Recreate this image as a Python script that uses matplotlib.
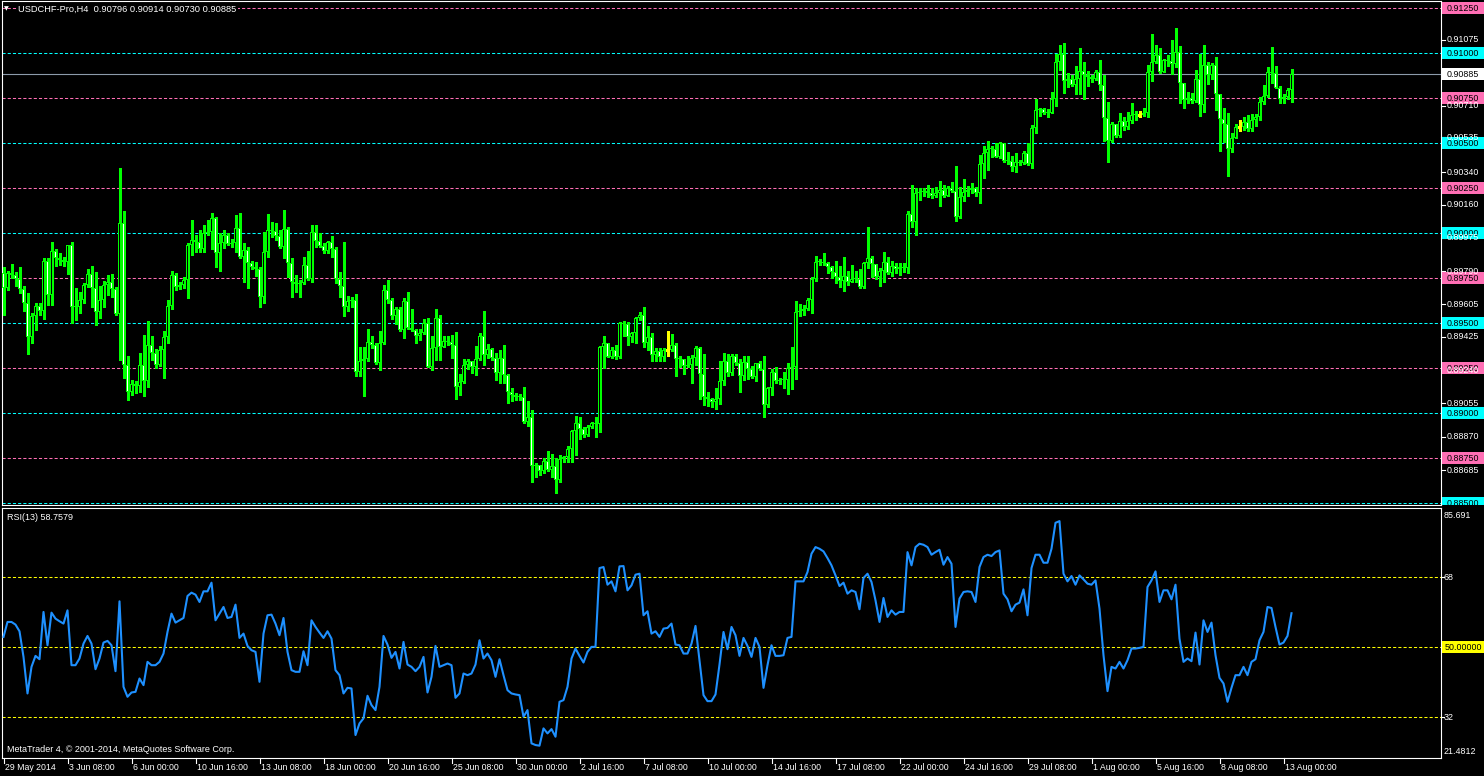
import numpy as np
import matplotlib
matplotlib.use("Agg")
import matplotlib.pyplot as plt
from matplotlib.transforms import blended_transform_factory, Bbox, TransformedBbox
from matplotlib.patches import Rectangle

# ---------------- data ----------------
header_text = "USDCHF-Pro,H4  0.90796 0.90914 0.90730 0.90885"
rsi_title = "RSI(13) 58.7579"
footer_text = "MetaTrader 4, \u00a9 2001-2014, MetaQuotes Software Corp."

first_open = 0.89778
closes = [
    0.89695, 0.89778, 0.89769, 0.89745, 0.89689, 0.89615, 0.89423, 0.89541, 0.89597, 0.89571,
    0.89847, 0.89658, 0.89902, 0.89861, 0.89852, 0.89843, 0.89934, 0.89590, 0.89593, 0.89630,
    0.89713, 0.89773, 0.89695, 0.89565, 0.89630, 0.89713, 0.89728, 0.89689, 0.89553, 0.90056,
    0.89270, 0.89116, 0.89162, 0.89153, 0.89270, 0.89177, 0.89380, 0.89334, 0.89270, 0.89353,
    0.89423, 0.89597, 0.89769, 0.89700, 0.89713, 0.89741, 0.89935, 0.89963, 0.89952, 0.89911,
    0.90000, 0.90006, 0.90083, 0.89893, 0.89945, 0.89991, 0.89941, 0.89945, 0.90028, 0.89871,
    0.89908, 0.89834, 0.89815, 0.89802, 0.89645, 0.89895, 0.90019, 0.90015, 0.89986, 0.89923,
    0.90022, 0.89834, 0.89732, 0.89717, 0.89723, 0.89824, 0.89745, 0.90006, 0.89959, 0.89932,
    0.89904, 0.89954, 0.89913, 0.89745, 0.89709, 0.89593, 0.89625, 0.89630, 0.89227, 0.89288,
    0.89301, 0.89399, 0.89377, 0.89279, 0.89390, 0.89686, 0.89627, 0.89538, 0.89578, 0.89464,
    0.89625, 0.89473, 0.89464, 0.89427, 0.89449, 0.89501, 0.89260, 0.89362, 0.89528, 0.89371,
    0.89403, 0.89399, 0.89380, 0.89145, 0.89173, 0.89269, 0.89291, 0.89256, 0.89302, 0.89430,
    0.89324, 0.89358, 0.89306, 0.89222, 0.89306, 0.89213, 0.89121, 0.89102, 0.89093, 0.89089,
    0.88954, 0.88978, 0.88708, 0.88714, 0.88680, 0.88736, 0.88686, 0.88708, 0.88630, 0.88745,
    0.88756, 0.88801, 0.88902, 0.88945, 0.88912, 0.88877, 0.88926, 0.88945, 0.88941, 0.89367,
    0.89389, 0.89315, 0.89352, 0.89311, 0.89504, 0.89496, 0.89426, 0.89445, 0.89528, 0.89546,
    0.89389, 0.89422, 0.89324, 0.89348, 0.89311, 0.89350, 0.89350, 0.89378, 0.89304, 0.89300,
    0.89263, 0.89271, 0.89306, 0.89364, 0.89217, 0.89090, 0.89079, 0.89062, 0.89079, 0.89177,
    0.89291, 0.89223, 0.89319, 0.89282, 0.89205, 0.89284, 0.89245, 0.89201, 0.89278, 0.89245,
    0.89047, 0.89140, 0.89232, 0.89177, 0.89186, 0.89184, 0.89251, 0.89256, 0.89565, 0.89569,
    0.89578, 0.89630, 0.89745, 0.89839, 0.89842, 0.89834, 0.89811, 0.89787, 0.89760, 0.89737,
    0.89763, 0.89732, 0.89748, 0.89745, 0.89704, 0.89834, 0.89861, 0.89828, 0.89756, 0.89793,
    0.89839, 0.89782, 0.89819, 0.89800, 0.89811, 0.89809, 0.90107, 0.90065, 0.90222, 0.90231,
    0.90233, 0.90226, 0.90207, 0.90226, 0.90240, 0.90207, 0.90250, 0.90237, 0.90093, 0.90204,
    0.90231, 0.90240, 0.90250, 0.90222, 0.90385, 0.90444, 0.90468, 0.90466, 0.90426, 0.90500,
    0.90403, 0.90401, 0.90366, 0.90396, 0.90392, 0.90444, 0.90385, 0.90583, 0.90685, 0.90688,
    0.90666, 0.90670, 0.90744, 0.90953, 0.90995, 0.90847, 0.90860, 0.90823, 0.90860, 0.90901,
    0.90879, 0.90870, 0.90855, 0.90897, 0.90823, 0.90638, 0.90514, 0.90610, 0.90542, 0.90623,
    0.90588, 0.90625, 0.90660, 0.90657, 0.90657, 0.90666, 0.90894, 0.90953, 0.90990, 0.90897,
    0.90962, 0.90958, 0.90938, 0.91008, 0.90833, 0.90740, 0.90753, 0.90736, 0.90855, 0.90712,
    0.90934, 0.90879, 0.90934, 0.90773, 0.90633, 0.90610, 0.90466, 0.90527, 0.90588, 0.90588,
    0.90620, 0.90577, 0.90629, 0.90644, 0.90731, 0.90762, 0.90894, 0.90888, 0.90810, 0.90746,
    0.90755, 0.90796, 0.90885,
]
highs = [
    0.89815, 0.89793, 0.89828, 0.89787, 0.89812, 0.89708, 0.89667, 0.89556, 0.89615, 0.89615,
    0.89861, 0.89861, 0.89952, 0.89913, 0.89889, 0.89867, 0.89937, 0.89952, 0.89695, 0.89676,
    0.89723, 0.89802, 0.89819, 0.89787, 0.89708, 0.89736, 0.89767, 0.89774, 0.89704, 0.90361,
    0.90124, 0.89319, 0.89186, 0.89177, 0.89334, 0.89436, 0.89512, 0.89430, 0.89356, 0.89374,
    0.89455, 0.89630, 0.89793, 0.89782, 0.89732, 0.89760, 0.89945, 0.90074, 0.89991, 0.90019,
    0.90046, 0.90074, 0.90111, 0.90093, 0.90000, 0.90019, 0.90000, 0.89967, 0.90102, 0.90111,
    0.89945, 0.89926, 0.89847, 0.89843, 0.89812, 0.90010, 0.90108, 0.90065, 0.90056, 0.90019,
    0.90130, 0.90037, 0.89861, 0.89769, 0.89741, 0.89867, 0.89904, 0.90046, 0.90046, 0.90000,
    0.89945, 0.89958, 0.89986, 0.89926, 0.89787, 0.89954, 0.89652, 0.89645, 0.89663, 0.89371,
    0.89371, 0.89469, 0.89427, 0.89390, 0.89455, 0.89713, 0.89741, 0.89639, 0.89588, 0.89588,
    0.89643, 0.89675, 0.89578, 0.89467, 0.89467, 0.89523, 0.89528, 0.89430, 0.89578, 0.89547,
    0.89427, 0.89430, 0.89435, 0.89454, 0.89219, 0.89302, 0.89302, 0.89278, 0.89374, 0.89448,
    0.89568, 0.89385, 0.89361, 0.89334, 0.89352, 0.89380, 0.89219, 0.89139, 0.89115, 0.89108,
    0.89148, 0.89071, 0.89019, 0.88723, 0.88695, 0.88751, 0.88788, 0.88775, 0.88751, 0.88769,
    0.88764, 0.88819, 0.88908, 0.88986, 0.88982, 0.88926, 0.88936, 0.88954, 0.88982, 0.89374,
    0.89430, 0.89393, 0.89371, 0.89380, 0.89509, 0.89515, 0.89509, 0.89454, 0.89533, 0.89561,
    0.89589, 0.89485, 0.89448, 0.89361, 0.89361, 0.89361, 0.89458, 0.89441, 0.89390, 0.89316,
    0.89301, 0.89319, 0.89325, 0.89375, 0.89371, 0.89330, 0.89116, 0.89084, 0.89140, 0.89292,
    0.89334, 0.89330, 0.89330, 0.89330, 0.89301, 0.89316, 0.89319, 0.89264, 0.89282, 0.89288,
    0.89319, 0.89149, 0.89245, 0.89256, 0.89195, 0.89232, 0.89282, 0.89371, 0.89626, 0.89608,
    0.89602, 0.89639, 0.89756, 0.89874, 0.89856, 0.89893, 0.89843, 0.89819, 0.89846, 0.89819,
    0.89870, 0.89793, 0.89824, 0.89793, 0.89801, 0.89843, 0.90037, 0.89874, 0.89806, 0.89806,
    0.89898, 0.89870, 0.89848, 0.89834, 0.89837, 0.89834, 0.90126, 0.90268, 0.90250, 0.90250,
    0.90250, 0.90268, 0.90250, 0.90259, 0.90290, 0.90268, 0.90263, 0.90287, 0.90374, 0.90255,
    0.90300, 0.90263, 0.90278, 0.90259, 0.90435, 0.90485, 0.90512, 0.90485, 0.90503, 0.90509,
    0.90503, 0.90453, 0.90429, 0.90444, 0.90407, 0.90459, 0.90500, 0.90601, 0.90744, 0.90699,
    0.90699, 0.90688, 0.90786, 0.90999, 0.91045, 0.91058, 0.90888, 0.90879, 0.90929, 0.91027,
    0.90953, 0.90903, 0.90879, 0.90910, 0.90962, 0.90879, 0.90731, 0.90620, 0.90607, 0.90666,
    0.90644, 0.90675, 0.90722, 0.90681, 0.90681, 0.90699, 0.90934, 0.91110, 0.91045, 0.91027,
    0.90971, 0.90990, 0.91073, 0.91138, 0.91040, 0.90836, 0.90786, 0.90781, 0.90910, 0.90999,
    0.91045, 0.90953, 0.90947, 0.90977, 0.90773, 0.90699, 0.90670, 0.90559, 0.90610, 0.90629,
    0.90648, 0.90657, 0.90662, 0.90662, 0.90755, 0.90823, 0.90925, 0.91036, 0.90929, 0.90818,
    0.90773, 0.90805, 0.90914,
]
lows = [
    0.89547, 0.89686, 0.89750, 0.89708, 0.89667, 0.89571, 0.89329, 0.89393, 0.89464, 0.89547,
    0.89523, 0.89602, 0.89602, 0.89819, 0.89824, 0.89819, 0.89774, 0.89501, 0.89516, 0.89560,
    0.89615, 0.89704, 0.89593, 0.89488, 0.89528, 0.89593, 0.89658, 0.89649, 0.89547, 0.89297,
    0.89195, 0.89075, 0.89103, 0.89112, 0.89116, 0.89094, 0.89149, 0.89297, 0.89250, 0.89262,
    0.89195, 0.89393, 0.89578, 0.89686, 0.89689, 0.89695, 0.89639, 0.89880, 0.89899, 0.89899,
    0.89899, 0.89991, 0.89913, 0.89812, 0.89793, 0.89917, 0.89935, 0.89926, 0.89899, 0.89861,
    0.89732, 0.89695, 0.89800, 0.89763, 0.89593, 0.89615, 0.89871, 0.89982, 0.89963, 0.89917,
    0.89861, 0.89760, 0.89649, 0.89676, 0.89645, 0.89719, 0.89741, 0.89732, 0.89926, 0.89926,
    0.89889, 0.89889, 0.89867, 0.89723, 0.89649, 0.89541, 0.89569, 0.89593, 0.89205, 0.89205,
    0.89098, 0.89288, 0.89362, 0.89275, 0.89238, 0.89386, 0.89615, 0.89523, 0.89497, 0.89455,
    0.89421, 0.89467, 0.89455, 0.89393, 0.89408, 0.89440, 0.89256, 0.89242, 0.89297, 0.89297,
    0.89367, 0.89380, 0.89306, 0.89078, 0.89102, 0.89167, 0.89245, 0.89226, 0.89213, 0.89297,
    0.89269, 0.89306, 0.89297, 0.89186, 0.89167, 0.89167, 0.89060, 0.89071, 0.89074, 0.89074,
    0.88949, 0.88930, 0.88616, 0.88645, 0.88658, 0.88667, 0.88677, 0.88645, 0.88560, 0.88621,
    0.88732, 0.88732, 0.88732, 0.88769, 0.88856, 0.88871, 0.88875, 0.88917, 0.88867, 0.88899,
    0.89250, 0.89311, 0.89306, 0.89304, 0.89306, 0.89430, 0.89380, 0.89398, 0.89393, 0.89519,
    0.89370, 0.89352, 0.89293, 0.89293, 0.89293, 0.89293, 0.89320, 0.89349, 0.89208, 0.89260,
    0.89219, 0.89260, 0.89171, 0.89269, 0.89079, 0.89047, 0.89038, 0.89034, 0.89023, 0.89053,
    0.89158, 0.89208, 0.89214, 0.89269, 0.89116, 0.89186, 0.89189, 0.89195, 0.89177, 0.89238,
    0.88979, 0.89034, 0.89103, 0.89171, 0.89164, 0.89140, 0.89108, 0.89134, 0.89190, 0.89541,
    0.89547, 0.89575, 0.89560, 0.89737, 0.89824, 0.89824, 0.89782, 0.89750, 0.89726, 0.89700,
    0.89682, 0.89713, 0.89732, 0.89732, 0.89695, 0.89695, 0.89806, 0.89756, 0.89745, 0.89708,
    0.89732, 0.89774, 0.89763, 0.89782, 0.89769, 0.89787, 0.89780, 0.90037, 0.89991, 0.90185,
    0.90207, 0.90200, 0.90194, 0.90204, 0.90152, 0.90204, 0.90207, 0.90231, 0.90070, 0.90083,
    0.90181, 0.90207, 0.90226, 0.90207, 0.90170, 0.90305, 0.90352, 0.90426, 0.90422, 0.90420,
    0.90398, 0.90385, 0.90348, 0.90342, 0.90379, 0.90385, 0.90379, 0.90361, 0.90555, 0.90651,
    0.90662, 0.90644, 0.90666, 0.90707, 0.90910, 0.90781, 0.90814, 0.90818, 0.90773, 0.90773,
    0.90749, 0.90818, 0.90842, 0.90850, 0.90799, 0.90514, 0.90398, 0.90509, 0.90537, 0.90537,
    0.90574, 0.90577, 0.90614, 0.90629, 0.90648, 0.90651, 0.90644, 0.90847, 0.90944, 0.90892,
    0.90897, 0.90929, 0.90884, 0.90925, 0.90722, 0.90699, 0.90722, 0.90722, 0.90731, 0.90651,
    0.90675, 0.90829, 0.90855, 0.90685, 0.90459, 0.90509, 0.90318, 0.90453, 0.90533, 0.90570,
    0.90574, 0.90570, 0.90570, 0.90596, 0.90629, 0.90718, 0.90755, 0.90833, 0.90805, 0.90722,
    0.90725, 0.90749, 0.90730,
]
rsi_values = [
    52.66, 56.51, 56.51, 55.83, 54.11, 47.51, 38.09, 44.94, 47.77, 46.91,
    59.09, 50.51, 58.91, 57.37, 56.69, 56.09, 59.51, 45.37, 45.37, 47.09,
    50.94, 52.91, 50.94, 44.34, 47.09, 51.20, 51.63, 50.51, 43.83, 61.83,
    39.80, 37.23, 38.34, 38.51, 41.94, 40.23, 46.23, 45.37, 45.37, 46.23,
    48.37, 53.94, 58.66, 56.34, 56.94, 57.54, 63.20, 64.06, 63.54, 61.66,
    64.40, 64.40, 66.63, 56.94, 58.66, 60.37, 57.54, 57.80, 60.97, 52.40,
    53.51, 50.34, 49.23, 48.80, 41.09, 53.51, 58.23, 58.40, 56.09, 53.09,
    57.54, 48.80, 44.09, 43.66, 43.66, 48.97, 45.37, 56.94, 55.23, 53.77,
    52.40, 54.11, 52.23, 44.09, 42.80, 38.09, 39.54, 39.37, 27.37, 30.37,
    31.66, 37.49, 35.09, 33.80, 39.80, 52.91, 50.69, 47.26, 48.80, 44.51,
    51.37, 45.54, 44.94, 43.83, 44.94, 47.51, 38.34, 42.37, 50.34, 44.94,
    45.37, 45.80, 45.37, 36.97, 38.09, 43.23, 42.80, 43.23, 45.54, 51.80,
    47.09, 48.37, 46.66, 42.37, 46.91, 42.80, 38.94, 38.09, 37.83, 37.66,
    32.09, 33.80, 25.23, 24.80, 24.63, 29.09, 27.80, 28.91, 26.94, 35.94,
    36.37, 39.80, 47.09, 49.66, 47.77, 46.06, 48.80, 50.09, 50.09, 70.40,
    70.66, 66.11, 66.97, 64.40, 70.83, 70.91, 64.66, 65.94, 68.69, 68.94,
    58.23, 59.26, 53.51, 54.11, 52.66, 54.80, 54.97, 56.09, 50.69, 50.51,
    48.37, 48.37, 50.94, 55.49, 46.66, 37.66, 36.11, 36.11, 37.83, 45.54,
    53.94, 49.49, 55.23, 53.09, 47.77, 52.40, 50.34, 47.51, 52.40, 50.09,
    39.54, 45.37, 50.51, 47.77, 47.77, 47.94, 52.40, 52.66, 66.97, 66.97,
    66.97, 69.37, 74.09, 75.80, 75.37, 74.69, 72.97, 71.09, 68.51, 65.77,
    66.63, 63.80, 64.66, 64.23, 59.77, 67.83, 68.94, 66.80, 62.09, 56.51,
    62.69, 57.80, 59.51, 58.40, 59.09, 59.09, 74.51, 71.09, 75.80, 76.66,
    76.40, 75.80, 73.83, 74.51, 75.11, 71.26, 73.23, 71.51, 55.23, 62.51,
    64.23, 64.40, 64.23, 61.66, 70.66, 73.23, 73.83, 73.49, 74.51, 74.94,
    63.80, 62.34, 59.26, 60.97, 61.49, 64.91, 58.23, 70.40, 73.83, 73.83,
    71.77, 71.77, 75.37, 82.06, 82.49, 68.94, 66.97, 68.34, 66.11, 68.51,
    67.49, 66.37, 66.11, 67.23, 59.94, 47.94, 38.69, 44.94, 44.51, 46.23,
    44.51, 46.66, 49.66, 49.66, 49.83, 50.09, 65.51, 67.23, 69.54, 61.66,
    64.66, 64.66, 62.34, 66.11, 52.23, 46.23, 47.09, 46.40, 53.77, 45.54,
    56.94, 53.94, 56.34, 47.94, 42.11, 40.66, 35.94, 39.54, 42.80, 42.80,
    44.94, 42.80, 46.23, 46.91, 51.80, 53.94, 60.37, 60.11, 55.23, 50.69,
    51.20, 52.91, 58.7579,
]
date_labels = [
    "29 May 2014", "3 Jun 08:00", "6 Jun 00:00", "10 Jun 16:00", "13 Jun 08:00",
    "18 Jun 00:00", "20 Jun 16:00", "25 Jun 08:00", "30 Jun 00:00", "2 Jul 16:00",
    "7 Jul 08:00", "10 Jul 00:00", "14 Jul 16:00", "17 Jul 08:00", "22 Jul 00:00",
    "24 Jul 16:00", "29 Jul 08:00", "1 Aug 00:00", "5 Aug 16:00", "8 Aug 08:00",
    "13 Aug 00:00",
]
bars_per_label = 16
pink_levels = [0.91250, 0.90750, 0.90250, 0.89750, 0.89250, 0.88750]
cyan_levels = [0.91000, 0.90500, 0.90000, 0.89500, 0.89000, 0.88500]
price_ticks = [0.91075, 0.90710, 0.90535, 0.90340, 0.90160, 0.89975, 0.89790,
               0.89605, 0.89425, 0.89240, 0.89055, 0.88870, 0.88685]
current_price = 0.90885
rsi_levels = [68, 50, 32]
rsi_max_label, rsi_min_label = "85.691", "21.4812"

assert len(closes) == len(highs) == len(lows) == len(rsi_values)

# ---------------- style ----------------
W, H = 1484, 776
LIME, YELLOW, PINK, CYAN = "#00FF00", "#FFFF00", "#FF6EB4", "#00FFFF"
GRAY = "#8C9AAA"
RSI_BLUE = "#1E90FF"
FAM = ["Liberation Sans", "DejaVu Sans"]
plt.rcParams["font.family"] = FAM


def fx(px):
    return px / W


def fy(py):
    return 1 - py / H


fig = plt.figure(figsize=(W / 100, H / 100), dpi=100, facecolor="black")
ax = fig.add_axes([fx(2), fy(505), fx(1441) - fx(2), fy(1) - fy(505)], facecolor="black")
ax2 = fig.add_axes([fx(2), fy(758), fx(1441) - fx(2), fy(507.5) - fy(758)], facecolor="black")
for a in (ax, ax2):
    for s in a.spines.values():
        s.set_color("white")
        s.set_linewidth(0.8)
    a.set_xticks([])
    a.set_yticks([])
    a.set_xlim(-0.375, 359.375)

ax.set_ylim(0.884907, 0.912907)
ax2.set_ylim(21.46, 86.0)
PX = (0.912907 - 0.884907) / 504.0   # price span of one pixel

# ---------------- main price panel ----------------
n = len(closes)
x = np.arange(n)
C = np.array(closes)
Hi = np.array(highs)
Lo = np.array(lows)
O = np.concatenate([[first_open], C[:-1]])
doji = np.isclose(C, O, atol=1e-7)
bull = (C > O) & ~doji
bear = (C < O) & ~doji
top = np.maximum(Hi, np.maximum(O, C))
bot = np.minimum(Lo, np.minimum(O, C))
b_lo = np.minimum(O, C)
b_hi = np.maximum(O, C)

dash = (0, (3, 2))
for lv in pink_levels:
    ax.axhline(lv, color=PINK, lw=0.75, ls=dash, zorder=1)
for lv in cyan_levels:
    ax.axhline(lv, color=CYAN, lw=0.75, ls=dash, zorder=1)
ax.axhline(current_price, color=GRAY, lw=0.8, zorder=2)

ax.vlines(x, bot, top, colors=np.where(doji, YELLOW, LIME).tolist(), lw=0.75,
          antialiased=False, zorder=3)
body = bull | bear
# outer green outline of the body (3 px wide)
ax.bar(x[body], np.maximum(b_hi - b_lo, PX)[body], bottom=b_lo[body], width=0.75,
       color=LIME, linewidth=0, antialiased=False, zorder=4)
# inner fill: black for rising bars, white for falling bars
inner = body & ((b_hi - b_lo) > 2.2 * PX)
for mask, fc in ((inner & bull, "black"), (inner & bear, "white")):
    ax.bar(x[mask], (b_hi - b_lo - 2 * PX)[mask], bottom=(b_lo + PX)[mask], width=0.25,
           color=fc, linewidth=0, antialiased=False, zorder=5)
ax.hlines(C[doji], x[doji] - 0.375, x[doji] + 0.375, colors=YELLOW, lw=0.8,
          antialiased=False, zorder=4)

# right price scale
tr_fig_data = blended_transform_factory(fig.transFigure, ax.transData)
tr_ax_data = blended_transform_factory(ax.transAxes, ax.transData)
clipbox = TransformedBbox(Bbox([[fx(1441), fy(505)], [1.0, 1.0]]), fig.transFigure)
box_h = 12 * PX
LABEL_FS = 6.4


def level_box(val, fc):
    r = Rectangle((fx(1442), val - box_h / 2), fx(1484) - fx(1442), box_h,
                  transform=tr_fig_data, facecolor=fc, edgecolor="none", zorder=5)
    r.set_clip_box(clipbox)
    fig.add_artist(r)
    t = fig.text(fx(1447), val, f"{val:.5f}", transform=tr_fig_data, color="black",
                 fontsize=LABEL_FS, va="center", ha="left", zorder=6)
    t.set_clip_box(clipbox)


for lv in pink_levels:
    level_box(lv, PINK)
for lv in cyan_levels:
    level_box(lv, CYAN)
level_box(current_price, "white")

for tv in price_ticks:
    ax.plot([1.0, 1.003], [tv, tv], color="white", lw=0.8, transform=tr_ax_data,
            clip_on=False)
    fig.text(fx(1447), tv, f"{tv:.5f}", transform=tr_fig_data, color="white",
             fontsize=LABEL_FS, va="center", ha="left", zorder=7)

# header
fig.text(fx(4), fy(9), "\u25bc", color="white", fontsize=4.5, va="center", ha="left",
         family=["DejaVu Sans"])
fig.text(fx(18), fy(9.5), header_text, color="white", fontsize=6.7, va="center",
         ha="left", bbox=dict(boxstyle="square,pad=0.15", fc="black", ec="none"), zorder=10)

# ---------------- RSI panel ----------------
for lv in rsi_levels:
    ax2.axhline(lv, color=YELLOW, lw=0.75, ls=dash, zorder=1)
ax2.plot(x, rsi_values, color=RSI_BLUE, lw=1.5, zorder=3)

tr2 = blended_transform_factory(fig.transFigure, ax2.transData)
tr2_ax = blended_transform_factory(ax2.transAxes, ax2.transData)
for lv in (68, 32):
    fig.text(fx(1444), lv, f"{lv}", transform=tr2, color="white", fontsize=LABEL_FS,
             va="center", ha="left")
    ax2.plot([1.0, 1.002], [lv, lv], color="white", lw=0.8, transform=tr2_ax, clip_on=False)
r50 = Rectangle((fx(1442), 50 - 1.55), fx(1484) - fx(1442), 3.1, transform=tr2,
                facecolor=YELLOW, edgecolor="none", zorder=5)
fig.add_artist(r50)
fig.text(fx(1445), 50, "50.00000", transform=tr2, color="black", fontsize=LABEL_FS,
         va="center", ha="left", zorder=6)
fig.text(fx(1444), fy(515), rsi_max_label, color="white", fontsize=LABEL_FS,
         va="center", ha="left")
fig.text(fx(1444), fy(751), rsi_min_label, color="white", fontsize=LABEL_FS,
         va="center", ha="left")
fig.text(fx(7), fy(517), rsi_title, color="white", fontsize=6.5, va="center", ha="left")
fig.text(fx(7), fy(750), footer_text, color="white", fontsize=6.5, va="center", ha="left")

# time axis
tr_bottom = blended_transform_factory(ax2.transData, fig.transFigure)
for k, lab in enumerate(date_labels):
    xi = k * bars_per_label
    ax2.plot([xi, xi], [fy(758), fy(763)], color="white", lw=0.8, transform=tr_bottom,
             clip_on=False)
    ax2.text(xi + 0.4, fy(767.5), lab, transform=tr_bottom, color="white",
             fontsize=6.3, va="center", ha="left", clip_on=False)

fig.savefig("out.png", dpi=100, facecolor="black")
